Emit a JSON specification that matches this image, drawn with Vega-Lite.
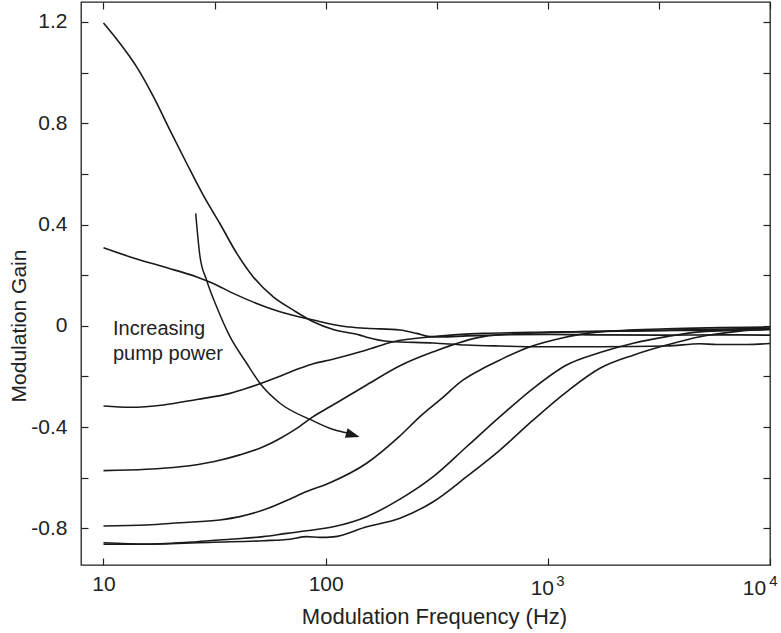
{
  "$schema": "https://vega.github.io/schema/vega-lite/v6.json",
  "width": 689,
  "height": 563,
  "autosize": {"type": "none"},
  "padding": {"left": 81, "top": 2, "right": 11, "bottom": 68},
  "background": "white",
  "config": {
    "view": {"stroke": "#222", "strokeWidth": 1.3},
    "font": "Liberation Sans",
    "axis": {"grid": false, "domain": false, "ticks": true, "zindex": 1, "tickColor": "#222", "tickWidth": 1.2, "labelColor": "#222", "titleColor": "#222", "titleFontWeight": "normal", "labelFont": "Liberation Sans", "titleFont": "Liberation Sans"}
  },
  "datasets": {
    "curves": [
      {"s": "A", "f": 10, "g": 1.196}, {"s": "A", "f": 11.87, "g": 1.115}, {"s": "A", "f": 14.1, "g": 1.0225}, {"s": "A", "f": 16.8, "g": 0.904}, {"s": "A", "f": 19.9, "g": 0.773}, {"s": "A", "f": 23.7, "g": 0.641}, {"s": "A", "f": 28.1, "g": 0.516}, {"s": "A", "f": 33.4, "g": 0.404}, {"s": "A", "f": 39.8, "g": 0.286}, {"s": "A", "f": 47.2, "g": 0.193}, {"s": "A", "f": 58.1, "g": 0.114}, {"s": "A", "f": 71.5, "g": 0.062}, {"s": "A", "f": 87.9, "g": 0.016}, {"s": "A", "f": 108.2, "g": -0.015}, {"s": "A", "f": 142.7, "g": -0.037}, {"s": "A", "f": 152.9, "g": -0.045}, {"s": "A", "f": 194.7, "g": -0.062}, {"s": "A", "f": 305, "g": -0.068}, {"s": "A", "f": 431, "g": -0.076}, {"s": "A", "f": 609, "g": -0.080}, {"s": "A", "f": 921, "g": -0.083}, {"s": "A", "f": 1716, "g": -0.083}, {"s": "A", "f": 3424, "g": -0.080}, {"s": "A", "f": 4836, "g": -0.071}, {"s": "A", "f": 5768, "g": -0.074}, {"s": "A", "f": 7870, "g": -0.074}, {"s": "A", "f": 10000, "g": -0.070},
      {"s": "B", "f": 10, "g": 0.308}, {"s": "B", "f": 13.2, "g": 0.272}, {"s": "B", "f": 18.6, "g": 0.233}, {"s": "B", "f": 26.3, "g": 0.193}, {"s": "B", "f": 31.2, "g": 0.167}, {"s": "B", "f": 38.4, "g": 0.128}, {"s": "B", "f": 48.9, "g": 0.088}, {"s": "B", "f": 62.3, "g": 0.055}, {"s": "B", "f": 87.9, "g": 0.0225}, {"s": "B", "f": 124.3, "g": -0.004}, {"s": "B", "f": 152.9, "g": -0.010}, {"s": "B", "f": 216, "g": -0.017}, {"s": "B", "f": 256.8, "g": -0.030}, {"s": "B", "f": 294.7, "g": -0.043}, {"s": "B", "f": 330, "g": -0.044}, {"s": "B", "f": 431, "g": -0.040}, {"s": "B", "f": 609, "g": -0.036}, {"s": "B", "f": 1022, "g": -0.034}, {"s": "B", "f": 1716, "g": -0.036}, {"s": "B", "f": 3424, "g": -0.037}, {"s": "B", "f": 6397, "g": -0.036}, {"s": "B", "f": 10000, "g": -0.037},
      {"s": "C", "f": 10, "g": -0.317}, {"s": "C", "f": 13.2, "g": -0.322}, {"s": "C", "f": 18.6, "g": -0.313}, {"s": "C", "f": 26.3, "g": -0.291}, {"s": "C", "f": 37.1, "g": -0.267}, {"s": "C", "f": 44.1, "g": -0.247}, {"s": "C", "f": 62.3, "g": -0.199}, {"s": "C", "f": 76.6, "g": -0.168}, {"s": "C", "f": 87.9, "g": -0.150}, {"s": "C", "f": 104.5, "g": -0.135}, {"s": "C", "f": 152.9, "g": -0.096}, {"s": "C", "f": 201.5, "g": -0.063}, {"s": "C", "f": 305, "g": -0.043}, {"s": "C", "f": 512, "g": -0.030}, {"s": "C", "f": 1022, "g": -0.025}, {"s": "C", "f": 2423, "g": -0.020}, {"s": "C", "f": 4836, "g": -0.015}, {"s": "C", "f": 10000, "g": -0.010},
      {"s": "D", "f": 10, "g": -0.572}, {"s": "D", "f": 15.6, "g": -0.567}, {"s": "D", "f": 22.1, "g": -0.557}, {"s": "D", "f": 31.2, "g": -0.537}, {"s": "D", "f": 41.1, "g": -0.510}, {"s": "D", "f": 52.4, "g": -0.478}, {"s": "D", "f": 62.3, "g": -0.445}, {"s": "D", "f": 74.1, "g": -0.405}, {"s": "D", "f": 87.9, "g": -0.359}, {"s": "D", "f": 104.5, "g": -0.320}, {"s": "D", "f": 152.9, "g": -0.234}, {"s": "D", "f": 216, "g": -0.158}, {"s": "D", "f": 305, "g": -0.103}, {"s": "D", "f": 512, "g": -0.043}, {"s": "D", "f": 860, "g": -0.028}, {"s": "D", "f": 1716, "g": -0.022}, {"s": "D", "f": 4836, "g": -0.018}, {"s": "D", "f": 10000, "g": -0.015},
      {"s": "E", "f": 10, "g": -0.791}, {"s": "E", "f": 15.6, "g": -0.787}, {"s": "E", "f": 22.1, "g": -0.778}, {"s": "E", "f": 33.4, "g": -0.767}, {"s": "E", "f": 41.1, "g": -0.754}, {"s": "E", "f": 52.4, "g": -0.728}, {"s": "E", "f": 66.8, "g": -0.690}, {"s": "E", "f": 82.1, "g": -0.655}, {"s": "E", "f": 104.5, "g": -0.620}, {"s": "E", "f": 152.9, "g": -0.543}, {"s": "E", "f": 216, "g": -0.435}, {"s": "E", "f": 265.7, "g": -0.359}, {"s": "E", "f": 326.8, "g": -0.293}, {"s": "E", "f": 416, "g": -0.214}, {"s": "E", "f": 512, "g": -0.168}, {"s": "E", "f": 609, "g": -0.135}, {"s": "E", "f": 831, "g": -0.083}, {"s": "E", "f": 1134, "g": -0.050}, {"s": "E", "f": 1716, "g": -0.024}, {"s": "E", "f": 3424, "g": -0.012}, {"s": "E", "f": 10000, "g": -0.005},
      {"s": "F", "f": 10, "g": -0.857}, {"s": "F", "f": 15.6, "g": -0.862}, {"s": "F", "f": 26.3, "g": -0.853}, {"s": "F", "f": 37.1, "g": -0.843}, {"s": "F", "f": 52.4, "g": -0.833}, {"s": "F", "f": 66.8, "g": -0.820}, {"s": "F", "f": 82.1, "g": -0.810}, {"s": "F", "f": 108.2, "g": -0.794}, {"s": "F", "f": 152.9, "g": -0.754}, {"s": "F", "f": 216, "g": -0.685}, {"s": "F", "f": 305, "g": -0.596}, {"s": "F", "f": 431, "g": -0.478}, {"s": "F", "f": 609, "g": -0.359}, {"s": "F", "f": 860, "g": -0.247}, {"s": "F", "f": 1215, "g": -0.155}, {"s": "F", "f": 1716, "g": -0.106}, {"s": "F", "f": 2423, "g": -0.069}, {"s": "F", "f": 3424, "g": -0.043}, {"s": "F", "f": 4836, "g": -0.024}, {"s": "F", "f": 10000, "g": -0.015},
      {"s": "G", "f": 10, "g": -0.863}, {"s": "G", "f": 15.6, "g": -0.863}, {"s": "G", "f": 31.2, "g": -0.855}, {"s": "G", "f": 52.4, "g": -0.849}, {"s": "G", "f": 69.1, "g": -0.843}, {"s": "G", "f": 82.1, "g": -0.833}, {"s": "G", "f": 94.2, "g": -0.836}, {"s": "G", "f": 108.2, "g": -0.834}, {"s": "G", "f": 152.9, "g": -0.794}, {"s": "G", "f": 216, "g": -0.760}, {"s": "G", "f": 305, "g": -0.695}, {"s": "G", "f": 431, "g": -0.596}, {"s": "G", "f": 609, "g": -0.491}, {"s": "G", "f": 860, "g": -0.372}, {"s": "G", "f": 1215, "g": -0.261}, {"s": "G", "f": 1716, "g": -0.168}, {"s": "G", "f": 2423, "g": -0.116}, {"s": "G", "f": 3424, "g": -0.076}, {"s": "G", "f": 4836, "g": -0.043}, {"s": "G", "f": 6830, "g": -0.024}, {"s": "G", "f": 10000, "g": -0.012}
    ],
    "arrow": [
      {"f": 26.0, "g": 0.444}, {"f": 27.2, "g": 0.272}, {"f": 29.1, "g": 0.181}, {"f": 32.3, "g": 0.075}, {"f": 37.1, "g": -0.043}, {"f": 44.1, "g": -0.148}, {"f": 50.6, "g": -0.227}, {"f": 62.3, "g": -0.306}, {"f": 86.0, "g": -0.372}, {"f": 109.1, "g": -0.411}, {"f": 126.1, "g": -0.424}
    ],
    "head": [{"f": 132.7, "g": -0.4315}],
    "note": [{"f": 11.03, "g": -0.037, "label": "Increasing\npump power"}]
  },
  "layer": [
    {
      "data": {"name": "curves"},
      "mark": {"type": "line", "interpolate": "monotone", "stroke": "#1a1a1a", "strokeWidth": 1.6},
      "encoding": {
        "x": {"field": "f", "type": "quantitative", "scale": {"type": "log", "domain": [7.92, 10000], "nice": false},
          "axis": {"orient": "bottom", "values": [10, 100, 1000, 10000], "tickSize": 7, "offset": -7, "labelFontSize": 21, "labelFlush": false,
            "labelExpr": "datum.value >= 99 && datum.value < 999 ? '100' : '10'",
            "labelPadding": {"condition": {"test": "datum.value >= 999", "value": 12}, "value": 8},
            "labelOffset": {"condition": [{"test": "datum.value >= 9999", "value": -16}, {"test": "datum.value >= 999", "value": -6}], "value": 0},
            "title": "Modulation Frequency (Hz)", "titleFontSize": 22, "titleBaseline": "alphabetic", "titleAlign": "center", "titleX": 353, "titleY": 65}},
        "y": {"field": "g", "type": "quantitative", "scale": {"domain": [-0.945, 1.279], "nice": false, "zero": false},
          "axis": {"orient": "left", "values": [-0.8, -0.6, -0.4, -0.2, 0, 0.2, 0.4, 0.6, 0.8, 1.0, 1.2], "tickSize": 7, "offset": -7, "labelPadding": 14, "labelFontSize": 21,
            "labelExpr": "abs(round(datum.value * 10)) % 4 == 0 ? (datum.value == 0 ? '0' : (datum.value < 0 ? '-' : '') + format(abs(datum.value), '.1f')) : ''",
            "title": "Modulation Gain", "titleFontSize": 21, "titleAngle": -90, "titleAlign": "center", "titleBaseline": "alphabetic", "titleX": -63, "titleY": 323.5}},
        "detail": {"field": "s", "type": "nominal"}
      }
    },
    {
      "data": {"name": "arrow"},
      "mark": {"type": "line", "interpolate": "monotone", "stroke": "#1a1a1a", "strokeWidth": 1.5},
      "encoding": {
        "x": {"field": "f", "type": "quantitative", "scale": {"type": "log", "domain": [7.92, 10000], "nice": false},
          "axis": {"orient": "top", "values": [10, 31.62, 100, 316.2, 1000, 3162, 10000], "tickSize": 7, "offset": -7, "labels": false, "title": null}},
        "y": {"field": "g", "type": "quantitative", "scale": {"domain": [-0.945, 1.279], "nice": false, "zero": false},
          "axis": {"orient": "right", "values": [-0.8, -0.6, -0.4, -0.2, 0, 0.2, 0.4, 0.6, 0.8, 1.0, 1.2], "tickSize": 7, "offset": -7, "labels": false, "title": null}}
      }
    },
    {
      "data": {"name": "head"},
      "mark": {"type": "point", "shape": "M 1,0 L -1,-0.7 L -1,0.7 Z", "filled": true, "size": 196, "angle": 16, "color": "#1a1a1a", "opacity": 1},
      "encoding": {
        "x": {"field": "f", "type": "quantitative", "scale": {"type": "log", "domain": [7.92, 10000], "nice": false},
          "axis": {"orient": "bottom", "values": [1000, 10000], "ticks": false, "labelPadding": 8, "labelFontSize": 15, "labelFlush": false,
            "labelExpr": "datum.value >= 9999 ? '4' : '3'",
            "labelOffset": {"condition": {"test": "datum.value >= 9999", "value": 3}, "value": 12},
            "title": null}},
        "y": {"field": "g", "type": "quantitative", "scale": {"domain": [-0.945, 1.279], "nice": false, "zero": false}, "axis": null}
      }
    },
    {
      "data": {"name": "note"},
      "mark": {"type": "text", "align": "left", "baseline": "alphabetic", "fontSize": 20, "lineBreak": "\n", "lineHeight": 25, "color": "#222", "font": "Liberation Sans"},
      "encoding": {
        "x": {"field": "f", "type": "quantitative", "scale": {"type": "log", "domain": [7.92, 10000], "nice": false}, "axis": null},
        "y": {"field": "g", "type": "quantitative", "scale": {"domain": [-0.945, 1.279], "nice": false, "zero": false}, "axis": null},
        "text": {"field": "label"}
      }
    }
  ],
  "resolve": {"axis": {"x": "independent", "y": "independent"}}
}
